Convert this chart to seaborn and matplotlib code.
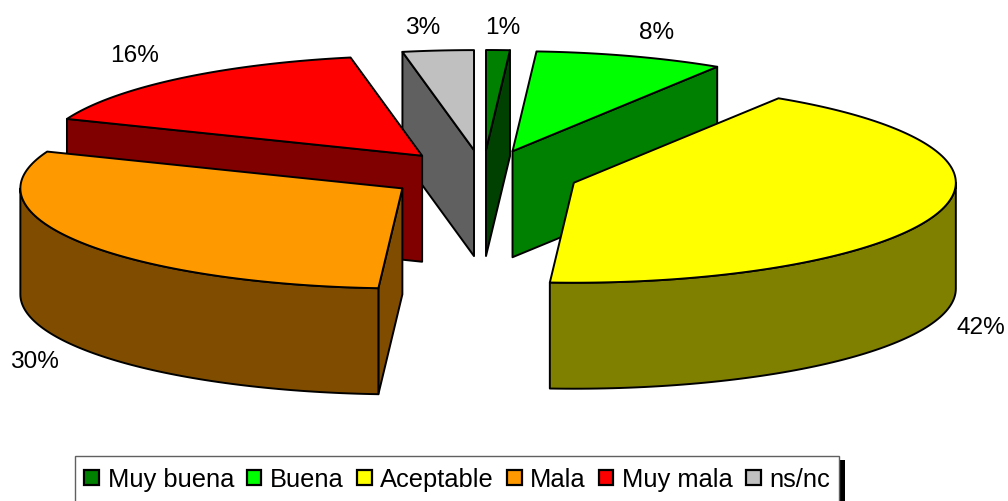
import numpy as np
import matplotlib
matplotlib.use('Agg')
import matplotlib.pyplot as plt
from matplotlib.patches import Patch, Polygon, Rectangle
import seaborn as sns

categories = ['Muy buena', 'Buena', 'Aceptable', 'Mala', 'Muy mala', 'ns/nc']
values = [1, 8, 42, 30, 16, 3]
top_colors = ['#008000', '#00FF00', '#FFFF00', '#FF9900', '#FF0000', '#C0C0C0']
side_colors = ['#004000', '#008000', '#808000', '#804D00', '#800000', '#606060']

# pie geometry in image pixels
CX, CY = 483, 176
RX, RY = 382, 100
DEPTH = 106
EXPLODE = 0.25
label_pos = [(503, 28), (657, 33), (981, 328), (34, 362), (135, 56), (423, 28)]

sns.set_theme(style='white')
plt.rcParams['font.family'] = ['Liberation Sans', 'DejaVu Sans']

fig = plt.figure(figsize=(10.08, 5.02), dpi=100)
ax = fig.add_axes([0, 0, 1, 1])
ax.set_xlim(0, 1008)
ax.set_ylim(502, 0)
ax.axis('off')


def rim(apex, t):
    # t is clockwise from 12 o'clock, radians
    return np.column_stack([apex[0] + RX * np.sin(t), apex[1] - RY * np.cos(t)])


def face(pts, color, z):
    ax.add_patch(Polygon(pts, closed=True, facecolor=color, edgecolor='black',
                         linewidth=1.4, joinstyle='round', zorder=z))


edges = 2 * np.pi * np.cumsum([0] + values) / sum(values)
mids = (edges[:-1] + edges[1:]) / 2

# back slices first so the front ones cover them
for z, i in enumerate(np.argsort(-np.cos(mids))):
    start, end, mid = edges[i], edges[i + 1], mids[i]
    apex = (CX + EXPLODE * RX * np.sin(mid), CY - EXPLODE * RY * np.cos(mid))
    down = np.array([0, DEPTH])
    base = z * 10

    for ang, visible in [(start, np.sin(start) < -1e-6), (end, np.sin(end) > 1e-6)]:
        if visible:
            p = rim(apex, np.array([ang]))[0]
            face([apex, p, p + down, np.array(apex) + down], side_colors[i], base + 1)

    # outer wall, only the part of the rim facing the viewer
    lo, hi = max(start, np.pi / 2), min(end, 3 * np.pi / 2)
    if lo < hi:
        arc = rim(apex, np.linspace(lo, hi, 80))
        face(np.vstack([arc, arc[::-1] + down]), side_colors[i], base + 2)

    arc = rim(apex, np.linspace(start, end, 200))
    face(np.vstack([[apex], arc]), top_colors[i], base + 3)

for v, (x, y) in zip(values, label_pos):
    ax.text(x, y, f'{v}%', ha='center', va='center', fontsize=17.6, color='black',
            clip_on=False, zorder=200)

# legend box runs off the bottom of the image, so frame drawn by hand
ax.add_patch(Rectangle((840, 461), 5, 45, facecolor='black', edgecolor='none', zorder=298))
ax.add_patch(Rectangle((74.5, 457), 764.5, 60, facecolor='white', edgecolor='#606060',
                       linewidth=1, zorder=299))
handles = [Patch(facecolor=c, edgecolor='black', linewidth=1.6) for c in top_colors]
leg = ax.legend(handles, categories, ncol=6, loc='upper left',
                bbox_to_anchor=(84 / 1008, 1 - 468.5 / 502), borderaxespad=0,
                fontsize=18.4, frameon=False, handlelength=0.58, handleheight=0.58,
                handletextpad=0.34, columnspacing=0.5, borderpad=0, labelspacing=0,
                labelcolor='black')
leg.set_zorder(300)

fig.savefig('out.png', dpi=100)
